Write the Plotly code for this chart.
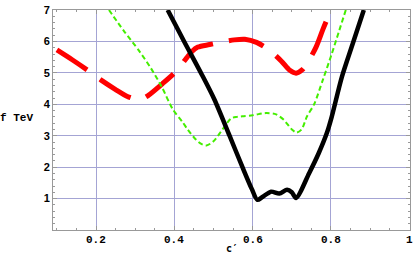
import plotly.graph_objects as go

# red thick dashed curve
red_c = [0.10, 0.14, 0.18, 0.213, 0.25, 0.28, 0.30, 0.315, 0.332, 0.37, 0.406, 0.431,
         0.445, 0.46, 0.49, 0.513, 0.553, 0.58, 0.61, 0.642, 0.673, 0.695, 0.711, 0.727,
         0.741, 0.762, 0.78, 0.80]
red_f = [5.73, 5.41, 5.07, 4.77, 4.47, 4.25, 4.17, 4.16, 4.27, 4.66, 5.07, 5.47,
         5.68, 5.82, 5.90, 5.96, 6.05, 6.07, 5.97, 5.73, 5.38, 5.08, 4.99, 5.10,
         5.34, 5.82, 6.40, 7.00]

# green thin dashed curve
green_c = [0.233, 0.27, 0.31, 0.34, 0.368, 0.396, 0.42, 0.434, 0.455, 0.47, 0.482, 0.50,
           0.523, 0.545, 0.56, 0.574, 0.60, 0.634, 0.66, 0.68, 0.70, 0.712, 0.725, 0.739,
           0.757, 0.78, 0.802, 0.82, 0.838]
green_f = [7.0, 6.35, 5.7, 5.15, 4.55, 3.84, 3.45, 3.2, 2.88, 2.73, 2.69, 2.82,
           3.2, 3.55, 3.6, 3.62, 3.65, 3.72, 3.68, 3.5, 3.2, 3.1, 3.2, 3.62,
           4.0, 4.8, 5.6, 6.3, 7.0]

# black solid curve
black_c = [0.383, 0.425, 0.47, 0.502, 0.541, 0.574, 0.598, 0.612, 0.625, 0.647, 0.668,
           0.688, 0.700, 0.711, 0.744, 0.769, 0.79, 0.802, 0.828, 0.855, 0.884]
black_f = [7.0, 6.0, 4.95, 4.16, 3.0, 2.0, 1.3, 0.96, 1.05, 1.22, 1.16,
           1.28, 1.2, 1.02, 1.8, 2.45, 3.1, 3.6, 4.87, 5.9, 7.0]

x_ticks = [0.2, 0.4, 0.6, 0.8, 1.0]
x_tick_labels = ["0.2", "0.4", "0.6", "0.8", "1"]
y_ticks = [1, 2, 3, 4, 5, 6, 7]
y_tick_labels = ["1", "2", "3", "4", "5", "6", "7"]

MONO = "Liberation Mono, Courier New, monospace"
SANS = "Liberation Sans, Arial, sans-serif"

fig = go.Figure()
fig.add_trace(go.Scatter(x=red_c, y=red_f, mode="lines",
                         line=dict(color="#ff0000", width=5, dash="36px,16px",
                                   shape="spline", smoothing=0.8)))
fig.add_trace(go.Scatter(x=green_c, y=green_f, mode="lines",
                         line=dict(color="#44ee00", width=2, dash="5px,3px",
                                   shape="spline", smoothing=0.8)))
fig.add_trace(go.Scatter(x=black_c, y=black_f, mode="lines",
                         line=dict(color="#000000", width=4.5,
                                   shape="spline", smoothing=0.8)))

L, R, T, B = 53, 5, 10, 30
W, H = 415, 260
pw, ph = W - L - R, H - T - B

grid = "#a4a4d4"
annotations = [
    dict(text="f TeV", x=(35 - L) / pw, y=(T + ph - 118) / ph, xref="paper", yref="paper",
         xanchor="right", yanchor="middle", showarrow=False,
         font=dict(family=MONO, size=11, color="black", weight="bold")),
    dict(text="c′", x=0.5, y=(T + ph - 248) / ph, xref="paper", yref="paper",
         xanchor="center", yanchor="middle", showarrow=False,
         font=dict(family="DejaVu Sans Mono, " + MONO, size=10, color="black", weight="bold")),
]
for v, t in zip(x_ticks, x_tick_labels):
    annotations.append(dict(text=t, x=v, xref="x", y=(T + ph - 240) / ph, yref="paper",
                            xanchor="center", yanchor="middle", showarrow=False,
                            font=dict(family=MONO, size=11, color="black", weight="bold")))

fig.update_layout(
    width=W, height=H,
    margin=dict(l=L, r=R, t=T, b=B),
    paper_bgcolor="white", plot_bgcolor="white",
    showlegend=False,
    xaxis=dict(range=[0.09, 1.002], tickvals=x_ticks, showticklabels=False,
               showgrid=True, gridcolor=grid, gridwidth=1, zeroline=False,
               showline=True, linecolor="#999999", linewidth=1, mirror="allticks",
               ticks="inside", ticklen=4, tickcolor="#999999",
               minor=dict(dtick=0.05, tick0=0, ticks="inside", ticklen=2,
                          tickcolor="#999999", showgrid=False)),
    yaxis=dict(range=[0, 7], tickvals=y_ticks, ticktext=y_tick_labels,
               showgrid=True, gridcolor=grid, gridwidth=1, zeroline=False,
               showline=True, linecolor="#999999", linewidth=1, mirror="allticks",
               ticks="inside", ticklen=4, tickcolor="#999999",
               minor=dict(dtick=0.2, tick0=0, ticks="inside", ticklen=2,
                          tickcolor="#999999", showgrid=False),
               tickfont=dict(family=SANS, size=11, color="black", weight="bold")),
    annotations=annotations,
)
fig.write_html("out.html", config={"displayModeBar": False},
               post_script="document.body.style.margin='0';document.body.style.overflow='hidden';")
